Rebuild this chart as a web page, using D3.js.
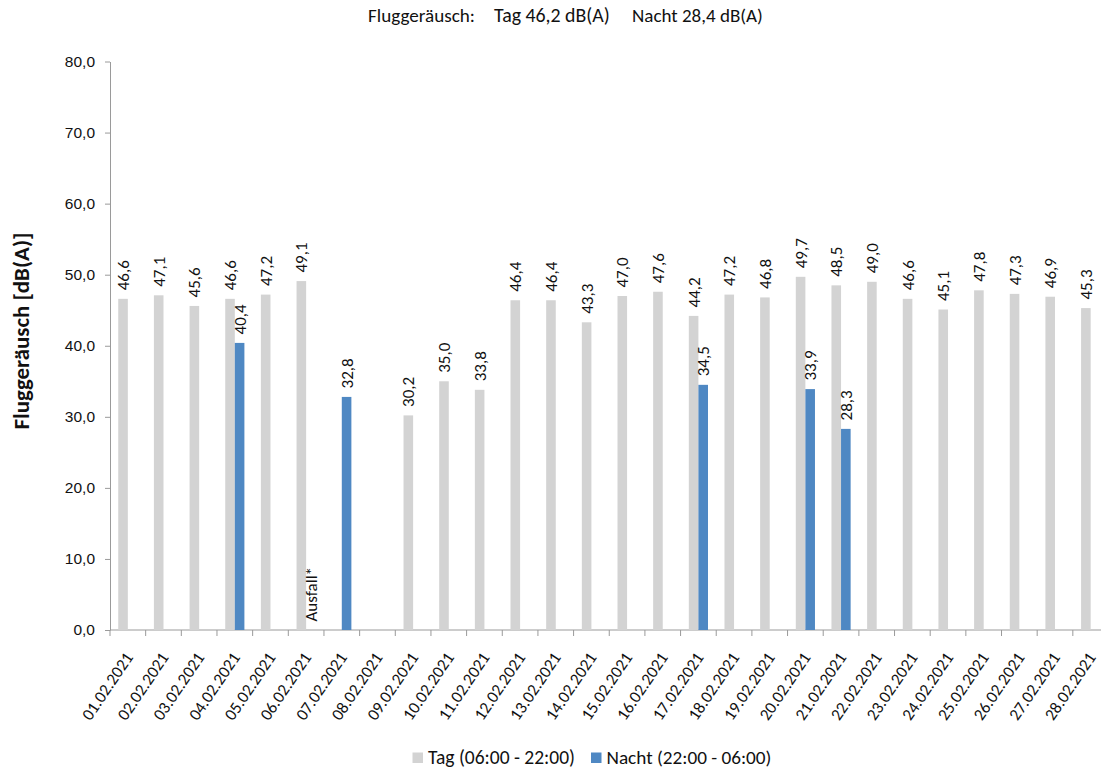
<!DOCTYPE html>
<html>
<head>
<meta charset="utf-8">
<script src="https://cdn.jsdelivr.net/npm/d3@7"></script>
<style>
  body { margin: 0; background: #fff; }
  svg { font-family: Carlito, Lato, "Open Sans", sans-serif; }
</style>
</head>
<body>
<div id="chart"></div>
<script>
// DATA
const dates = ["01.02.2021","02.02.2021","03.02.2021","04.02.2021","05.02.2021","06.02.2021","07.02.2021",
  "08.02.2021","09.02.2021","10.02.2021","11.02.2021","12.02.2021","13.02.2021","14.02.2021",
  "15.02.2021","16.02.2021","17.02.2021","18.02.2021","19.02.2021","20.02.2021","21.02.2021",
  "22.02.2021","23.02.2021","24.02.2021","25.02.2021","26.02.2021","27.02.2021","28.02.2021"];
const tagValues = [46.6,47.1,45.6,46.6,47.2,49.1,null,null,30.2,35.0,33.8,46.4,46.4,43.3,
  47.0,47.6,44.2,47.2,46.8,49.7,48.5,49.0,46.6,45.1,47.8,47.3,46.9,45.3];
const nachtValues = [null,null,null,40.4,null,0,32.8,null,null,null,null,null,null,null,
  null,null,34.5,null,null,33.9,28.3,null,null,null,null,null,null,null];
const nachtNotes = {"06.02.2021": "Ausfall*"};   // Ausfall instead of value
const yTicks = [0,10,20,30,40,50,60,70,80];
const seriesNames = ["Tag (06:00 - 22:00)", "Nacht (22:00 - 06:00)"];
const titleParts = ["Fluggeräusch:", "Tag 46,2 dB(A)", "Nacht 28,4 dB(A)"];
const yTitle = "Fluggeräusch [dB(A)]";

const colors = { tag: "#d3d3d3", nacht: "#4f88c3" };
const axisColor = "#9a9a9a";

const de = d3.formatLocale({ decimal: ",", thousands: ".", grouping: [3], currency: ["", " €"] });
const fmt = de.format(".1f");

const W = 1101, H = 769;
const svg = d3.select("#chart").append("svg").attr("width", W).attr("height", H);

// scale a text's font size so it takes the wanted width
function fitWidth(sel, want) {
  sel.each(function () {
    const fs = parseFloat(this.getAttribute("font-size"));
    const len = this.getComputedTextLength();
    if (len > 0) this.setAttribute("font-size", (fs * want / len).toFixed(2));
  });
}

// scales (plot runs a bit past the right edge, as in the picture)
const x0 = d3.scaleBand().domain(dates).range([110, 1108.5]).paddingInner(0).paddingOuter(0);
const x1 = d3.scaleBand().domain(["tag","nacht"]).range([0, x0.bandwidth()]).paddingOuter(0.86).paddingInner(0);
const y = d3.scaleLinear().domain([0, 80]).range([630, 61.5]);

// y axis
const yAxisG = svg.append("g").attr("transform", "translate(110,0)")
  .call(d3.axisLeft(y).tickValues(yTicks).tickFormat(fmt).tickSize(5).tickSizeOuter(0).tickPadding(10));
yAxisG.select(".domain").attr("stroke", axisColor);
yAxisG.selectAll(".tick line").attr("stroke", axisColor);
yAxisG.selectAll("text").attr("font-size", 15.5).attr("fill", "#111");

// x axis
const xAxisG = svg.append("g").attr("transform", "translate(0,630)");
xAxisG.append("line").attr("x1", 110).attr("x2", W).attr("stroke", axisColor);
xAxisG.selectAll(".xtick").data(dates).join("line")
  .attr("class", "xtick")
  .attr("x1", d => x0(d)).attr("x2", d => x0(d))
  .attr("y1", 0).attr("y2", 6).attr("stroke", axisColor);
xAxisG.selectAll(".xlab").data(dates).join("text")
  .attr("class", "xlab")
  .attr("transform", d => `translate(${x0(d) + x0.bandwidth() / 2 + 1},${24}) rotate(-56)`)
  .attr("text-anchor", "end")
  .attr("dy", "0.35em")
  .attr("font-size", 17)
  .attr("fill", "#111")
  .text(d => d);

// bars
const rows = dates.map((d, i) => ({ date: d, tag: tagValues[i], nacht: nachtValues[i] }));
const bars = [];
rows.forEach(r => {
  if (r.tag != null) bars.push({ date: r.date, key: "tag", value: r.tag });
  if (r.nacht != null) bars.push({ date: r.date, key: "nacht", value: r.nacht });
});

const g = svg.append("g");
g.selectAll("rect").data(bars).join("rect")
  .attr("x", d => x0(d.date) + x1(d.key))
  .attr("width", x1.bandwidth())
  .attr("y", d => y(d.value))
  .attr("height", d => y(0) - y(d.value))
  .attr("fill", d => colors[d.key]);

g.selectAll(".vlab").data(bars).join("text")
  .attr("class", "vlab")
  .attr("transform", d => `translate(${x0(d.date) + x1(d.key) + x1.bandwidth() / 2},${y(d.value) - 8.5}) rotate(-90)`)
  .attr("dy", "0.35em")
  .attr("text-anchor", "start")
  .attr("font-size", 17)
  .attr("fill", "#111")
  .text(d => (d.key === "nacht" && nachtNotes[d.date]) ? nachtNotes[d.date] : fmt(d.value));

// title (three pieces with wide gaps)
const titleSpots = [[368, 107], [494, 116], [632, 131]];
svg.selectAll(".title").data(titleParts).join("text")
  .attr("class", "title")
  .attr("x", (d, i) => titleSpots[i][0]).attr("y", 22)
  .attr("font-size", 15)
  .attr("fill", "#111")
  .text(d => d)
  .each(function (d, i) { fitWidth(d3.select(this), titleSpots[i][1]); });

// y title
svg.append("text")
  .attr("transform", "translate(29,331) rotate(-90)")
  .attr("text-anchor", "middle")
  .attr("font-size", 19)
  .attr("font-weight", "bold")
  .attr("fill", "#111")
  .text(yTitle)
  .call(fitWidth, 197);

// legend
const legend = svg.append("g").attr("transform", "translate(412.5,752.5)");
const legItems = [{ key: "tag", x: 0, len: 147 }, { key: "nacht", x: 178.5, len: 165 }];
legItems.forEach((it, i) => {
  const lg = legend.append("g").attr("transform", `translate(${it.x},0)`);
  lg.append("rect").attr("width", 10.5).attr("height", 10.5).attr("fill", colors[it.key]);
  lg.append("text").attr("x", 15.5).attr("y", 11.5)
    .attr("font-size", 16).attr("fill", "#111").text(seriesNames[i])
    .call(fitWidth, it.len);
});
</script>
</body>
</html>
